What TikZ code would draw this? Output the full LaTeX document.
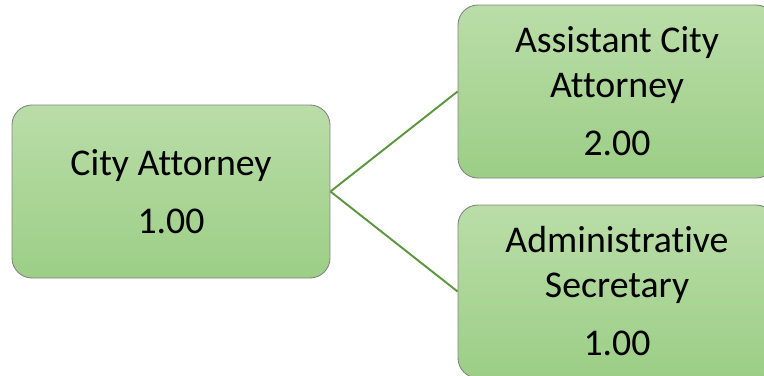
\documentclass[tikz,border=0pt]{standalone}
\usepackage{fontspec}
\setmainfont[Ligatures=CommonOff]{Carlito}
\usepackage{tikz}
\usetikzlibrary{shapes.geometric, arrows.meta}

\definecolor{boxtop}{RGB}{186,221,168}
\definecolor{boxbottom}{RGB}{156,206,134}
\definecolor{boxedge}{RGB}{130,130,130}
\definecolor{linkgreen}{RGB}{92,150,62}

\tikzset{
  post/.style={rectangle, rounded corners=0.4cm, draw=boxedge, line width=0.5pt,
    top color=boxtop, bottom color=boxbottom,
    minimum width=6.36cm, minimum height=3.46cm, align=center,
    font=\fontsize{21.5}{25.6}\selectfont},
  link/.style={draw=linkgreen, line width=1.1pt}
}

\begin{document}
\begin{tikzpicture}
            \useasboundingbox (0,0) rectangle (15.28,-7.5);
            % Nodes
            \node[post] (cityatt) at (3.42,-3.83) {City Attorney\\[7.4pt]1.00};
            \node[post] (asstatt) at (12.34,-1.83) {Assistant City\\Attorney\\[7.4pt]2.00};
            \node[post] (adminsec) at (12.34,-5.83) {Administrative\\Secretary\\[7.4pt]1.00};
            % Connections
            \draw[link] (cityatt.east) -- (asstatt.west);
            \draw[link] (cityatt.east) -- (adminsec.west);
        \end{tikzpicture}
\end{document}
